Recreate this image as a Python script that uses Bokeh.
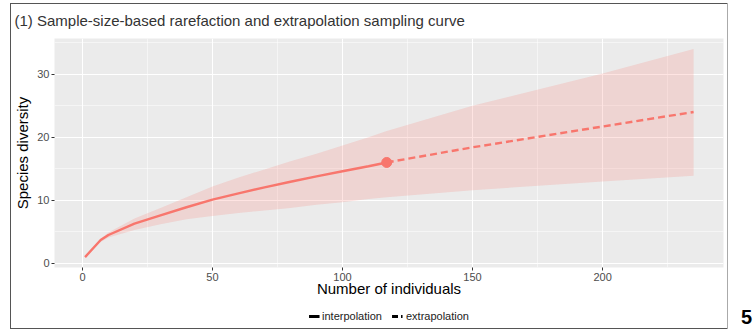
import numpy as np
from bokeh.plotting import figure
from bokeh.models import (ColumnDataSource, FixedTicker, Legend, LegendItem, Label)
from bokeh.layouts import column, row
from bokeh.embed import file_html
from bokeh.resources import INLINE

# ---- data ----
interp_x = [1, 7, 10, 20, 30, 40, 50, 60, 70, 80, 90, 100, 110, 117]
interp_y = [1.0, 3.7, 4.5, 6.3, 7.6, 8.9, 10.1, 11.1, 12.05, 12.95, 13.8, 14.6, 15.4, 16.0]
extrap_x = [117, 150, 200, 235]
extrap_y = [16.0, 18.4, 21.7, 24.0]
band_x = [1, 7, 10, 20, 30, 40, 50, 60, 70, 80, 90, 100, 110, 117, 150, 200, 235]
band_lower = [1.0, 3.4, 4.1, 5.3, 6.2, 7.0, 7.5, 8.0, 8.4, 8.8, 9.3, 9.7, 10.2, 10.5, 11.6, 13.0, 13.9]
band_upper = [1.0, 3.9, 4.9, 7.1, 8.8, 10.5, 12.2, 13.6, 14.9, 16.2, 17.4, 18.7, 20.0, 21.0, 25.0, 30.1, 34.0]
obs_x = [117]
obs_y = [16.0]
x_ticks = [0, 50, 100, 150, 200]
x_minor = [-25, 25, 75, 125, 175, 225]
y_ticks = [0, 10, 20, 30]
y_minor = [5, 15, 25, 35]
title_text = "(1) Sample-size-based rarefaction and extrapolation sampling curve"
x_title = "Number of individuals"
y_title = "Species diversity"
legend_labels = ["interpolation", "extrapolation"]
panel_tag = "5"

COL = "#F8766D"
FONT = "Liberation Sans"


def blank(width, height, **kw):
    f = figure(width=width, height=height, output_backend="svg",
               toolbar_location=None, x_axis_type=None, y_axis_type=None,
               x_range=(0, 1), y_range=(0, 1), title_location=None, **kw)
    f.outline_line_color = None
    f.background_fill_color = "white"
    f.border_fill_color = "white"
    return f


# ---------------- main panel ----------------
p = figure(width=716, height=300, output_backend="svg", toolbar_location=None,
           x_range=(-10.75, 246.5), y_range=(-0.65, 35.65),
           min_border_left=42, min_border_right=4, min_border_top=33,
           min_border_bottom=37)
p.background_fill_color = "#EBEBEB"
p.border_fill_color = "white"
p.outline_line_color = None

p.title.text = title_text
p.title.text_font = FONT
p.title.text_font_size = "15px"
p.title.text_font_style = "normal"
p.title.text_color = "#333333"
p.title.align = "left"
p.title.vertical_align = "top"
p.title.offset = -40
p.title.standoff = 15

p.xgrid.ticker = FixedTicker(ticks=x_ticks, minor_ticks=x_minor)
p.ygrid.ticker = FixedTicker(ticks=y_ticks, minor_ticks=y_minor)
for g in (p.xgrid, p.ygrid):
    g.grid_line_color = "white"
    g.grid_line_width = 1.1
    g.minor_grid_line_color = "white"
    g.minor_grid_line_width = 0.5

p.xaxis.ticker = FixedTicker(ticks=x_ticks)
p.yaxis.ticker = FixedTicker(ticks=y_ticks)
for ax in (p.xaxis, p.yaxis):
    ax.axis_line_color = None
    ax.major_tick_line_color = "#333333"
    ax.major_tick_in = 0
    ax.major_tick_out = 3
    ax.minor_tick_line_color = None
    ax.major_label_text_font = FONT
    ax.major_label_text_font_size = "11px"
    ax.major_label_text_color = "#4D4D4D"
    ax.major_label_standoff = 2
    ax.axis_label_text_font = FONT
    ax.axis_label_text_font_size = "15px"
    ax.axis_label_text_font_style = "normal"
    ax.axis_label_text_color = "black"
p.xaxis.axis_label_standoff = -4
p.yaxis.axis_label_standoff = 3
p.xaxis.axis_label = x_title
p.yaxis.axis_label = y_title

band = ColumnDataSource(dict(x=band_x, lo=band_lower, hi=band_upper))
p.varea(x="x", y1="lo", y2="hi", source=band, fill_color=COL, fill_alpha=0.2)
p.line(interp_x, interp_y, line_color=COL, line_width=2.4)
p.line(extrap_x, extrap_y, line_color=COL, line_width=2.4, line_dash="7 4")
p.scatter(obs_x, obs_y, size=10, color=COL)

# ---------------- legend strip ----------------
pl = blank(716, 24, min_border_left=40, min_border_right=0, min_border_top=0,
           min_border_bottom=0)
nan2 = [np.nan, np.nan]
r_solid = pl.line(nan2, nan2, line_color="black", line_width=3)
r_dash = pl.line(nan2, nan2, line_color="black", line_width=3, line_dash="6 3")
leg = Legend(items=[LegendItem(label=legend_labels[0], renderers=[r_solid]),
                    LegendItem(label=legend_labels[1], renderers=[r_dash])],
             orientation="horizontal", location="center")
leg.label_text_font = FONT
leg.label_text_font_size = "11px"
leg.label_text_color = "#222222"
leg.label_height = 12
leg.glyph_width = 11
leg.glyph_height = 12
leg.label_standoff = 3
leg.spacing = 10
leg.padding = 0
leg.margin = 0
leg.border_line_color = None
leg.background_fill_alpha = 0
pl.add_layout(leg)

# ---------------- panel number ----------------
pn = blank(28, 330, min_border=0)
pn.add_layout(Label(x=19, y=14, x_units="screen", y_units="screen",
                    text=panel_tag, text_font=FONT, text_font_size="20px",
                    text_font_style="bold", text_color="black",
                    text_align="center", text_baseline="middle"))

box = column(p, pl, spacing=0, margin=(4, 0, 0, 11),
             styles={"outline": "1.3px solid #555555"})
layout = row(box, pn, spacing=0)

open("out.html", "w").write(file_html(layout, INLINE))
